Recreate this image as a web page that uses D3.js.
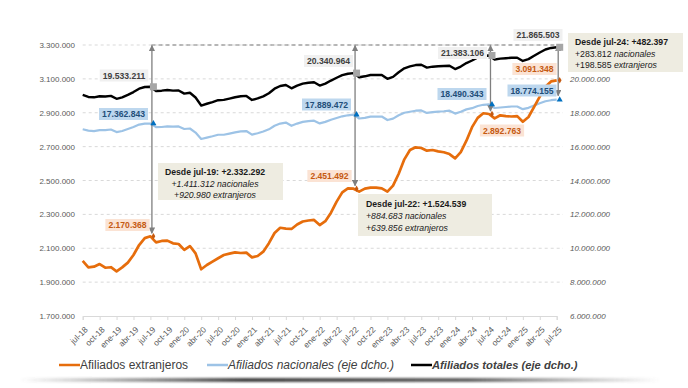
<!DOCTYPE html>
<html>
<head>
<meta charset="utf-8">
<script src="https://cdn.jsdelivr.net/npm/d3@7"></script>
<style>
body { margin: 0; background: #fff; }
svg { display: block; font-family: "Liberation Sans", Arial, sans-serif; }
</style>
</head>
<body>
<svg id="chart" width="688" height="388"></svg>
<script>
// meses (categorias del eje X)
var months = ["jul-18","ago-18","sep-18","oct-18","nov-18","dic-18",
	"ene-19","feb-19","mar-19","abr-19","may-19","jun-19","jul-19","ago-19","sep-19","oct-19","nov-19","dic-19",
	"ene-20","feb-20","mar-20","abr-20","may-20","jun-20","jul-20","ago-20","sep-20","oct-20","nov-20","dic-20",
	"ene-21","feb-21","mar-21","abr-21","may-21","jun-21","jul-21","ago-21","sep-21","oct-21","nov-21","dic-21",
	"ene-22","feb-22","mar-22","abr-22","may-22","jun-22","jul-22","ago-22","sep-22","oct-22","nov-22","dic-22",
	"ene-23","feb-23","mar-23","abr-23","may-23","jun-23","jul-23","ago-23","sep-23","oct-23","nov-23","dic-23",
	"ene-24","feb-24","mar-24","abr-24","may-24","jun-24","jul-24","ago-24","sep-24","oct-24","nov-24","dic-24",
	"ene-25","feb-25","mar-25","abr-25","may-25","jun-25","jul-25"];

var xTicks = ["jul-18","oct-18","ene-19","abr-19","jul-19","oct-19","ene-20","abr-20","jul-20","oct-20",
	"ene-21","abr-21","jul-21","oct-21","ene-22","abr-22","jul-22","oct-22","ene-23","abr-23","jul-23",
	"oct-23","ene-24","abr-24","jul-24","oct-24","ene-25","abr-25","jul-25"];

var leftTicks = [1700000,1900000,2100000,2300000,2500000,2700000,2900000,3100000,3300000];
// 22.000.000 queda tapado por el cuadro de jul-24 en el original
var rightTicks = [6000000,8000000,10000000,12000000,14000000,16000000,18000000,20000000];

// afiliados extranjeros (eje izq.)
var extranjeros = [2025000,1987000,1991000,2007000,1985000,1988000,
	1964000,1987000,2015000,2060000,2119000,2160000,2170368,2135000,2143000,2145000,2129000,2125000,
	2090000,2113000,2070000,1976000,2001000,2021000,2041000,2060000,2068000,2076000,2072000,2074000,
	2046000,2054000,2080000,2130000,2190000,2221000,2216000,2214000,2240000,2258000,2264000,2267000,
	2237000,2260000,2310000,2375000,2430000,2454000,2451492,2434000,2452000,2458000,2458000,2454000,
	2434000,2470000,2540000,2625000,2680000,2696000,2692000,2676000,2680000,2672000,2667000,2656000,
	2631000,2668000,2735000,2815000,2870000,2897000,2892763,2867000,2885000,2880000,2878000,2880000,
	2847000,2875000,2935000,2995000,3054000,3085000,3091348];

// afiliados nacionales (eje dcho.)
var nacionales = [17025000,16945000,16920000,16970000,16975000,17010000,
	16860000,16925000,17040000,17160000,17300000,17360000,17362843,17150000,17160000,17200000,17180000,17190000,
	17040000,17070000,16830000,16450000,16530000,16610000,16700000,16700000,16770000,16840000,16900000,16920000,
	16710000,16790000,16890000,17020000,17230000,17360000,17420000,17230000,17360000,17460000,17510000,17530000,
	17370000,17460000,17590000,17690000,17790000,17850000,17889472,17660000,17700000,17770000,17770000,17780000,
	17570000,17650000,17850000,18000000,18060000,18120000,18140000,17990000,18040000,18070000,18090000,18120000,
	17950000,18060000,18200000,18270000,18400000,18470000,18490343,18280000,18310000,18340000,18370000,18370000,
	18210000,18290000,18430000,18560000,18680000,18740000,18774155];

// afiliados totales (eje dcho.)
var totales = [19050000,18932000,18911000,18977000,18960000,18998000,
	18824000,18912000,19055000,19220000,19419000,19520000,19533211,19285000,19303000,19345000,19309000,19315000,
	19130000,19183000,18900000,18426000,18531000,18631000,18741000,18760000,18838000,18916000,18972000,18994000,
	18756000,18844000,18970000,19150000,19420000,19581000,19636000,19444000,19600000,19718000,19774000,19797000,
	19607000,19720000,19900000,20065000,20220000,20304000,20340964,20094000,20152000,20228000,20228000,20234000,
	20004000,20120000,20390000,20625000,20740000,20816000,20832000,20666000,20720000,20742000,20757000,20776000,
	20581000,20728000,20935000,21085000,21270000,21367000,21383106,21147000,21195000,21220000,21248000,21250000,
	21057000,21165000,21365000,21555000,21734000,21825000,21865503];

var hitos = ["jul-19","jul-22","jul-24","jul-25"];

var es = d3.formatLocale({decimal: ",", thousands: ".", grouping: [3], currency: ["", "€"]});
var fmt = es.format(",d");

var svg = d3.select("#chart");
var plotTop = 45, plotBottom = 316;

var x = d3.scalePoint().domain(months).range([82.7, 556.7]);
var yL = d3.scaleLinear().domain([1700000, 3300000]).range([plotBottom, plotTop]);
var yR = d3.scaleLinear().domain([6000000, 22000000]).range([plotBottom, plotTop]);

var defs = svg.append("defs");
var grad = defs.append("linearGradient").attr("id", "shade");
grad.append("stop").attr("offset", "0").attr("stop-color", "#555").attr("stop-opacity", 0);
grad.append("stop").attr("offset", "0.35").attr("stop-color", "#444").attr("stop-opacity", 1);
grad.append("stop").attr("offset", "0.7").attr("stop-color", "#555").attr("stop-opacity", 0.9);
grad.append("stop").attr("offset", "1").attr("stop-color", "#777").attr("stop-opacity", 0);
defs.append("filter").attr("id", "blur").attr("x", "-5%").attr("y", "-200%").attr("width", "110%").attr("height", "500%")
	.append("feGaussianBlur").attr("stdDeviation", 1.3);
defs.append("marker").attr("id", "arr").attr("viewBox", "0 0 10 10")
	.attr("refX", 9).attr("refY", 5).attr("markerWidth", 5).attr("markerHeight", 5)
	.attr("markerUnits", "strokeWidth").attr("orient", "auto-start-reverse")
	.append("path").attr("d", "M0,0L10,5L0,10z").attr("fill", "#7f7f7f");

// sombra inferior
svg.append("rect").attr("x", 20).attr("y", 378).attr("width", 640).attr("height", 4)
	.attr("fill", "url(#shade)").attr("filter", "url(#blur)");

// rejilla
svg.append("g").selectAll("line")
	.data(leftTicks.slice(1))
	.enter().append("line")
	.attr("x1", 82.7).attr("x2", 563)
	.attr("y1", function(d) { return yL(d); })
	.attr("y2", function(d) { return yL(d); })
	.attr("stroke", "#d9d9d9").attr("stroke-dasharray", "3,3");

var yAxisL = svg.append("g").attr("transform", "translate(82,0)")
	.call(d3.axisLeft(yL).tickValues(leftTicks).tickSize(0).tickPadding(7).tickFormat(fmt));
yAxisL.select(".domain").remove();
yAxisL.selectAll("text").attr("font-size", 8).attr("fill", "#595959").attr("font-family", null);

var yAxisR = svg.append("g").attr("transform", "translate(563,0)")
	.call(d3.axisRight(yR).tickValues(rightTicks).tickSize(0).tickPadding(7).tickFormat(fmt));
yAxisR.select(".domain").remove();
yAxisR.selectAll("text").attr("font-size", 8).attr("fill", "#595959")
	.attr("font-style", "italic").attr("font-family", null);

var xAxis = svg.append("g").attr("transform", "translate(0," + plotBottom + ")")
	.call(d3.axisBottom(x).tickValues(xTicks).tickSizeOuter(0).tickSize(4));
xAxis.select(".domain").attr("stroke", "#d9d9d9");
xAxis.selectAll(".tick line").attr("stroke", "#d9d9d9");
xAxis.selectAll("text")
	.attr("y", 0).attr("dy", "0.35em")
	.attr("transform", "translate(3,12) rotate(-45)")
	.style("text-anchor", "end")
	.attr("font-size", 8.4).attr("fill", "#595959").attr("font-family", null);

// series
function serie(vals, scale, color, width) {
	svg.append("path")
		.datum(vals)
		.attr("d", d3.line().x(function(d, i) { return x(months[i]); }).y(function(d) { return scale(d); }))
		.attr("fill", "none").attr("stroke", color).attr("stroke-width", width)
		.attr("stroke-linejoin", "round");
}
serie(nacionales, yR, "#9dc3e6", 2.2);
serie(totales, yR, "#000000", 2.4);
serie(extranjeros, yL, "#e66d0c", 2.7);

// linea discontinua superior y flechas
svg.append("line").attr("x1", x("jul-19") + 1).attr("x2", 563).attr("y1", plotTop).attr("y2", plotTop)
	.attr("stroke", "#7f7f7f").attr("stroke-width", 1.2).attr("stroke-dasharray", "4,3");

var arrowEnds = hitos.map(function(h) {
	var i = months.indexOf(h);
	if (h == "jul-25") return yR(nacionales[i]) - 4;
	return yL(extranjeros[i]) - 3;
});
svg.append("g").selectAll("line")
	.data(hitos)
	.enter().append("line")
	.attr("x1", function(d) { return x(d) + 1.5; })
	.attr("x2", function(d) { return x(d) + 1.5; })
	.attr("y1", plotTop + 0.5)
	.attr("y2", function(d, i) { return arrowEnds[i]; })
	.attr("stroke", "#7f7f7f").attr("stroke-width", 1.3)
	.attr("marker-start", "url(#arr)").attr("marker-end", "url(#arr)");

// etiquetas de valores
var labelPos = {
	"jul-19": {tot: [124, 75.5], nac: [123.5, 114], ext: [127.5, 225]},
	"jul-22": {tot: [328.5, 61], nac: [326.5, 104.5], ext: [329.5, 176]},
	"jul-24": {tot: [462.5, 53], nac: [462, 94], ext: [502, 130.5]},
	"jul-25": {tot: [538, 35], nac: [532, 90.5], ext: [534.5, 69]}
};
var labelStyle = {
	tot: {bg: "#f0f0f0", fg: "#404040", vals: totales},
	nac: {bg: "#bdd7ee", fg: "#1f4e79", vals: nacionales},
	ext: {bg: "#fbe3d4", fg: "#c55a11", vals: extranjeros}
};
hitos.forEach(function(h) {
	var i = months.indexOf(h);
	["tot", "nac", "ext"].forEach(function(k) {
		var p = labelPos[h][k], st = labelStyle[k];
		var g = svg.append("g").attr("transform", "translate(" + p[0] + "," + p[1] + ")");
		var t = g.append("text").text(fmt(st.vals[i]))
			.attr("text-anchor", "middle").attr("dy", "0.35em")
			.attr("font-size", 8.6).attr("font-weight", "bold").attr("fill", st.fg);
		var w = t.node().getComputedTextLength() + 6;
		g.insert("rect", "text").attr("x", -w / 2).attr("y", -6).attr("width", w).attr("height", 12)
			.attr("fill", st.bg);
	});
});

// cuadros de variacion
var last = months.length - 1;
var notes = [
	{from: "jul-19", box: [158, 163, 125, 37], anchor: "middle", tx: 215, ty: [175, 187, 198]},
	{from: "jul-22", box: [358, 194, 134, 42], anchor: "start", tx: 366, ty: [207, 219, 230.5]},
	{from: "jul-24", box: [568, 33, 115, 39], anchor: "start", tx: 575, ty: [45, 56.5, 68]}
];
notes.forEach(function(n) {
	var i = months.indexOf(n.from);
	var dTot = totales[last] - totales[i];
	var dNac = nacionales[last] - nacionales[i];
	var dExt = extranjeros[last] - extranjeros[i];
	svg.append("rect").attr("x", n.box[0]).attr("y", n.box[1]).attr("width", n.box[2]).attr("height", n.box[3])
		.attr("fill", "#eeece1");
	var t = svg.append("g").attr("font-size", 8.7).attr("fill", "#1a1a1a").attr("text-anchor", n.anchor);
	t.append("text").attr("x", n.tx).attr("y", n.ty[0]).attr("font-weight", "bold")
		.text("Desde " + n.from + ": +" + fmt(dTot));
	var rows = [[dNac, "nacionales"], [dExt, "extranjeros"]];
	rows.forEach(function(r, j) {
		var tx = t.append("text").attr("x", n.tx).attr("y", n.ty[j + 1]);
		if (n.from == "jul-24") {
			tx.append("tspan").text("+" + fmt(r[0]) + " ");
			tx.append("tspan").attr("font-style", "italic").text(r[1]);
		} else {
			tx.attr("font-style", "italic").text("+" + fmt(r[0]) + " " + r[1]);
		}
	});
});

// marcadores
var mk = svg.append("g");
hitos.forEach(function(h) {
	var i = months.indexOf(h), cx = x(h) + 3;
	mk.append("rect").attr("x", cx - 3.5).attr("y", yR(totales[i]) - 3.5).attr("width", 7).attr("height", 7)
		.attr("fill", "#a6a6a6");
	mk.append("path").attr("transform", "translate(" + cx + "," + yR(nacionales[i]) + ")")
		.attr("d", d3.symbol().type(d3.symbolTriangle).size(16)).attr("fill", "#0070c0");
	mk.append("path").attr("transform", "translate(" + cx + "," + yL(extranjeros[i]) + ")")
		.attr("d", d3.symbol().type(d3.symbolDiamond).size(12)).attr("fill", "#c55a11");
});

// leyenda
var legend = [
	{name: "Afiliados extranjeros", color: "#e66d0c", x: 59, style: "normal", weight: "normal", size: 12},
	{name: "Afiliados nacionales (eje dcho.)", color: "#9dc3e6", x: 207, style: "italic", weight: "normal", size: 12},
	{name: "Afiliados totales (eje dcho.)", color: "#000000", x: 411, style: "italic", weight: "bold", size: 11.2}
];
var lg = svg.append("g").attr("transform", "translate(0,365)");
lg.selectAll("line").data(legend).enter().append("line")
	.attr("x1", function(d) { return d.x; }).attr("x2", function(d) { return d.x + 21; })
	.attr("y1", 0).attr("y2", 0)
	.attr("stroke", function(d) { return d.color; }).attr("stroke-width", 2.5);
lg.selectAll("text").data(legend).enter().append("text")
	.attr("x", function(d) { return d.x + 21; }).attr("y", 0).attr("dy", "0.35em")
	.attr("font-size", function(d) { return d.size; })
	.attr("font-style", function(d) { return d.style; })
	.attr("font-weight", function(d) { return d.weight; })
	.attr("fill", "#404040")
	.text(function(d) { return d.name; });
</script>
</body>
</html>
